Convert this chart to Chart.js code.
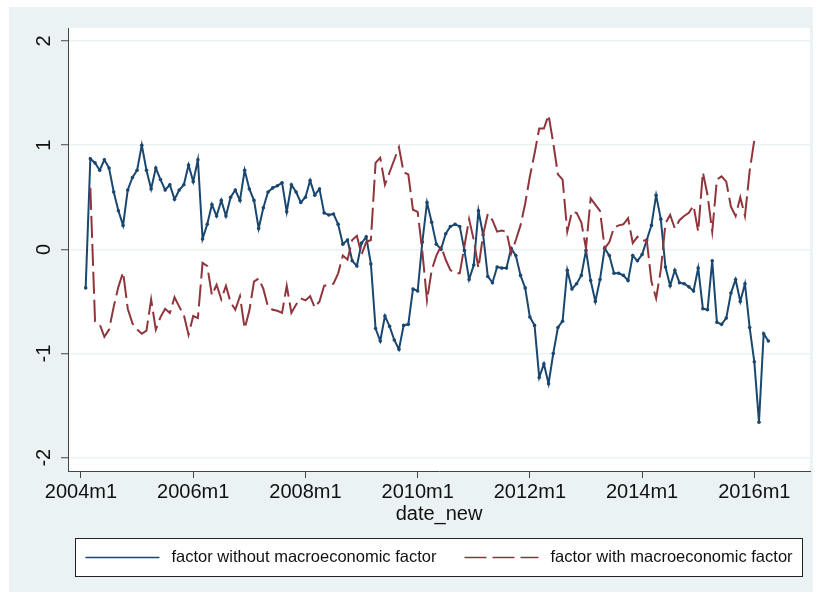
<!DOCTYPE html>
<html>
<head>
<meta charset="utf-8">
<script src="https://cdn.jsdelivr.net/npm/chart.js@4.4.0/dist/chart.umd.min.js"></script>
<style>
html, body { margin: 0; padding: 0; background: #fff; }
canvas { display: block; }
</style>
</head>
<body>
<canvas id="grafico" width="818" height="599"></canvas>
<script>
// meses iniciales de cada serie
const primerMesSin = "2004m2";
const primerMesCon = "2004m3";

const etiquetasX = ["2004m1", "2006m1", "2008m1", "2010m1", "2012m1", "2014m1", "2016m1"];
const ticksY = [-2, -1, 0, 1, 2];

// factor without macroeconomic factor (2004m2 .. 2016m4)
const sinMacro = [
    -0.37, 0.87, 0.83, 0.76, 0.86, 0.78, 0.55, 0.37, 0.23, 0.57, 0.69,
    0.76, 1.00, 0.76, 0.58, 0.78, 0.67, 0.57, 0.62, 0.48, 0.57, 0.62, 0.81,
    0.65, 0.86, 0.10, 0.24, 0.43, 0.32, 0.47, 0.32, 0.50, 0.57, 0.47, 0.76,
    0.58, 0.47, 0.20, 0.40, 0.55, 0.59, 0.61, 0.64, 0.36, 0.62, 0.55, 0.45,
    0.50, 0.66, 0.52, 0.58, 0.35, 0.33, 0.34, 0.24, 0.05, 0.09, -0.11, -0.16,
    0.06, 0.12, -0.14, -0.76, -0.88, -0.64, -0.74, -0.87, -0.96, -0.73, -0.72, -0.38,
    -0.40, 0.07, 0.45, 0.26, 0.05, 0.00, 0.15, 0.22, 0.24, 0.22, -0.01, -0.29,
    -0.15, 0.37, 0.14, -0.26, -0.32, -0.17, -0.18, -0.18, 0.01, -0.06, -0.25, -0.37,
    -0.65, -0.73, -1.23, -1.10, -1.29, -1.00, -0.75, -0.69, -0.20, -0.38, -0.33, -0.25,
    -0.01, -0.30, -0.50, -0.29, 0.01, -0.06, -0.23, -0.23, -0.25, -0.30, -0.06, -0.11,
    -0.05, 0.09, 0.23, 0.52, 0.29, -0.17, -0.35, -0.20, -0.32, -0.33, -0.36, -0.40,
    -0.18, -0.57, -0.58, -0.11, -0.70, -0.72, -0.66, -0.42, -0.29, -0.50, -0.33, -0.75,
    -1.08, -1.66, -0.81, -0.88
];

// factor with macroeconomic factor (2004m3 .. 2016m1)
const conMacro = [
    0.59, -0.69, -0.72, -0.84, -0.77, -0.55, -0.36, -0.22, -0.57, -0.71,
    -0.77, -0.81, -0.78, -0.48, -0.77, -0.65, -0.57, -0.61, -0.46, -0.55, -0.63, -0.82,
    -0.64, -0.66, -0.13, -0.16, -0.44, -0.34, -0.48, -0.35, -0.51, -0.58, -0.45, -0.76,
    -0.59, -0.31, -0.28, -0.38, -0.55, -0.58, -0.59, -0.61, -0.35, -0.61, -0.53, -0.47,
    -0.49, -0.45, -0.56, -0.50, -0.35, -0.34, -0.33, -0.23, -0.06, -0.10, 0.09, 0.13,
    -0.05, 0.07, 0.09, 0.83, 0.88, 0.62, 0.74, 0.86, 0.98, 0.74, 0.72, 0.38,
    0.36, -0.02, -0.49, -0.20, -0.06, 0.03, -0.10, -0.20, -0.23, -0.23, 0.03, 0.29,
    0.09, -0.18, 0.14, 0.34, 0.28, 0.17, 0.18, 0.17, -0.04, 0.09, 0.23, 0.44,
    0.70, 0.92, 1.16, 1.16, 1.29, 1.02, 0.72, 0.67, 0.17, 0.36, 0.35, 0.26,
    0.01, 0.49, 0.43, 0.37, 0.01, 0.07, 0.21, 0.23, 0.24, 0.30, 0.06, 0.12,
    0.08, 0.09, -0.31, -0.47, -0.20, 0.25, 0.33, 0.20, 0.28, 0.32, 0.35, 0.42,
    0.17, 0.74, 0.52, 0.17, 0.67, 0.70, 0.65, 0.41, 0.32, 0.50, 0.32, 0.75,
    1.05
];

const FUENTE = "'Liberation Sans', Arial, Helvetica, sans-serif";

// "2004m1" -> 0, "2004m2" -> 1 ...
function mesAIndice(etiqueta) {
    const partes = etiqueta.split("m");
    return (Number(partes[0]) - 2004) * 12 + Number(partes[1]) - 1;
}

function puntos(primerMes, valores) {
    const inicio = mesAIndice(primerMes);
    return valores.map((v, i) => ({ x: inicio + i, y: v }));
}

const FONDO = {
    id: "fondo",
    beforeDraw(chart) {
        const ctx = chart.ctx;
        const a = chart.chartArea;
        ctx.save();
        ctx.fillStyle = "#ffffff";
        ctx.fillRect(0, 0, chart.width, chart.height);
        ctx.fillStyle = "#eaf2f3";
        ctx.fillRect(9, 7, 804, 585);
        ctx.fillStyle = "#ffffff";
        ctx.fillRect(a.left, a.top, a.right - a.left, a.bottom - a.top);
        ctx.restore();
    }
};

// leyenda con recuadro, al estilo de Stata
const LEYENDA = {
    id: "leyenda",
    afterDraw(chart) {
        const ctx = chart.ctx;
        ctx.save();
        ctx.fillStyle = "#ffffff";
        ctx.fillRect(75.5, 538.5, 727, 38);
        ctx.strokeStyle = "#222222";
        ctx.lineWidth = 1;
        ctx.strokeRect(75.5, 538.5, 727, 38);
        ctx.font = "16.5px " + FUENTE;
        const items = chart.data.datasets.map(d => ({ d: d, w: 74 + 12 + ctx.measureText(d.label).width }));
        const total = items.reduce((s, it) => s + it.w, 0) + 28 * (items.length - 1);
        let x = 439 - total / 2;
        const y = 557.5;
        items.forEach(it => {
            ctx.strokeStyle = it.d.borderColor;
            ctx.lineWidth = 1.5;
            ctx.setLineDash(it.d.borderDash || []);
            ctx.beginPath();
            ctx.moveTo(x, y);
            ctx.lineTo(x + 74, y);
            ctx.stroke();
            ctx.setLineDash([]);
            ctx.fillStyle = "#111111";
            ctx.textBaseline = "middle";
            ctx.fillText(it.d.label, x + 86, y);
            x += it.w + 28;
        });
        ctx.restore();
    }
};

const CANVAS = document.getElementById("grafico");

new Chart(CANVAS, {
    type: "line",
    data: {
        datasets: [
            {
                label: "factor without macroeconomic factor",
                data: puntos(primerMesSin, sinMacro),
                borderColor: "#1a476f",
                backgroundColor: "#1a476f",
                borderWidth: 2,
                pointRadius: 1.8,
                pointBorderWidth: 0,
                tension: 0,
                order: 2
            },
            {
                label: "factor with macroeconomic factor",
                data: puntos(primerMesCon, conMacro),
                borderColor: "#90353b",
                backgroundColor: "#90353b",
                borderWidth: 2,
                borderDash: [22, 6],
                pointRadius: 0,
                tension: 0,
                order: 1
            }
        ]
    },
    options: {
        responsive: false,
        animation: false,
        devicePixelRatio: 1,
        layout: { padding: { left: 9, top: 28, right: 8, bottom: 62 } },
        plugins: {
            legend: { display: false },
            tooltip: { enabled: false }
        },
        scales: {
            x: {
                type: "linear",
                min: -2.78,
                max: 155.91,
                afterBuildTicks: s => { s.ticks = etiquetasX.map(e => ({ value: mesAIndice(e) })); },
                afterFit: s => { s.height = 66; },
                ticks: {
                    callback: v => etiquetasX.find(e => mesAIndice(e) === v),
                    font: { size: 20, family: FUENTE },
                    color: "#111111",
                    padding: 2,
                    maxRotation: 0,
                    autoSkip: false
                },
                grid: { drawOnChartArea: false, tickLength: 7, tickColor: "#444444", tickWidth: 1 },
                border: { color: "#444444", width: 1 },
                title: {
                    display: true,
                    text: "date_new",
                    font: { size: 20, family: FUENTE },
                    color: "#111111",
                    padding: { top: 0, bottom: 11 }
                }
            },
            y: {
                type: "linear",
                min: -2.128,
                max: 2.125,
                afterBuildTicks: s => { s.ticks = ticksY.map(v => ({ value: v })); },
                afterFit: s => { s.width = 59; },
                ticks: {
                    minRotation: 90,
                    maxRotation: 90,
                    crossAlign: "center",
                    padding: 8,
                    font: { size: 20, family: FUENTE },
                    color: "#111111",
                    autoSkip: false
                },
                grid: { color: "#eaf2f3", lineWidth: 1.5, tickLength: 7, tickColor: "#444444", tickWidth: 1 },
                border: { color: "#444444", width: 1 }
            }
        }
    },
    plugins: [FONDO, LEYENDA]
});
</script>
</body>
</html>
